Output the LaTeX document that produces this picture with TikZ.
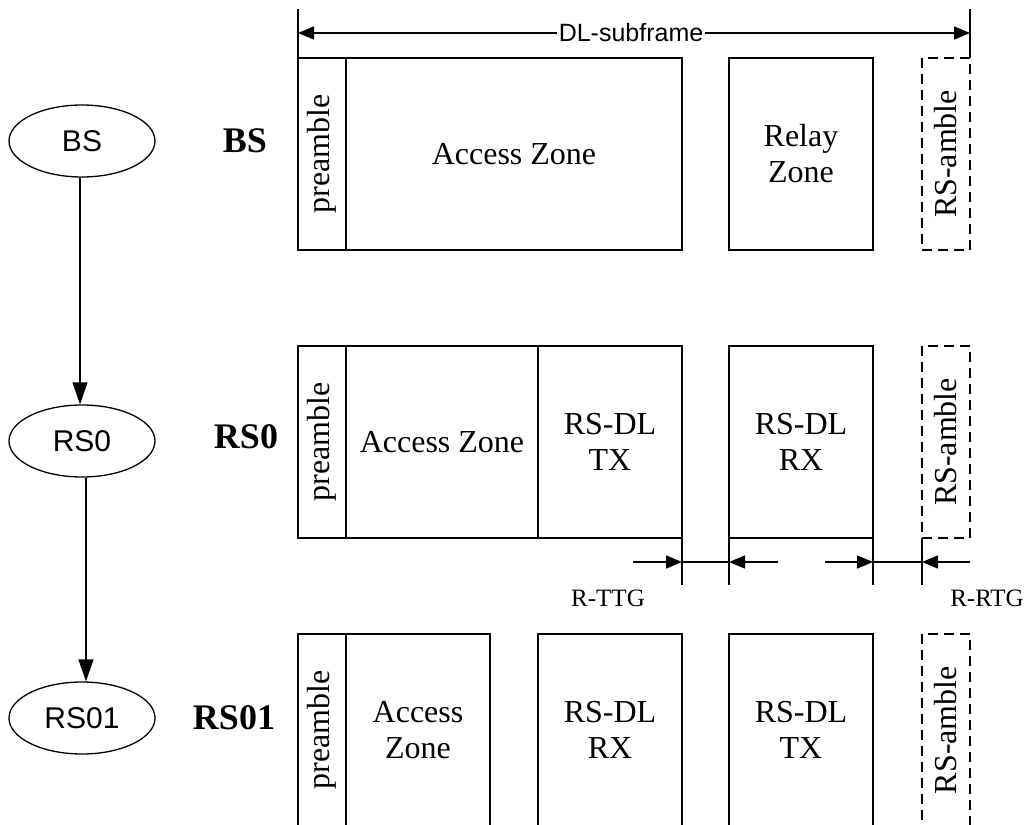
\documentclass[tikz,border=0pt]{standalone}
\usepackage{fontspec}
\setmainfont{Liberation Serif}
\newfontfamily\arialf{Liberation Sans}
\usetikzlibrary{shapes.geometric,arrows.meta}
\begin{document}
\begin{tikzpicture}[x=1pt,y=-1pt,
  box/.style={draw,line width=1.5pt,inner sep=0pt,outer sep=0pt,align=center,
    font=\fontsize{32}{36}\selectfont},
  dbox/.style={box,dash pattern=on 10pt off 6pt},
  gnode/.style={ellipse,draw,line width=1.3pt,minimum width=146pt,minimum height=72pt,
    inner sep=0pt,font=\arialf\fontsize{30}{36}\selectfont},
  lbl/.style={inner sep=0pt,font=\bfseries\fontsize{36}{40}\selectfont},
  gap/.style={inner sep=0pt,font=\fontsize{25}{30}\selectfont},
  dim/.style={line width=1.5pt,-{Triangle[length=16pt,width=13pt]}},
  garrow/.style={line width=1.3pt,-{Triangle[length=22pt,width=15pt]}},
  tick/.style={line width=1.5pt}
]
\useasboundingbox (0,0) rectangle (1027,824);

% ---------- graph on the left ----------
\node[gnode] (BS)   at (82,141) {BS};
\node[gnode] (RS0)  at (82,441) {RS0};
\node[gnode] (RS01) at (82,718) {RS01};
\draw[garrow] ([xshift=-2pt]BS.south) -- ([xshift=-2pt]RS0.north);
\draw[garrow] ([xshift=4pt]RS0.south) -- ([xshift=4pt]RS01.north);

\node[lbl] (lBS)   at (245,141) {BS};
\node[lbl] (lRS0)  at (246,437) {RS0};
\node[lbl] (lRS01) at (234,718) {RS01};

% ---------- BS row ----------
\node[box,minimum width=48pt,minimum height=192pt]  (bpre) at (322,154) {\rotatebox{90}{preamble}};
\node[box,minimum width=336pt,minimum height=192pt] (bacc) at (514,154) {Access Zone};
\node[box,minimum width=144pt,minimum height=192pt] (brel) at (801,154) {Relay\\Zone};
\node[dbox,minimum width=48pt,minimum height=192pt] (bamb) at (946,154) {\rotatebox{90}{RS-amble}};

% ---------- RS0 row ----------
\node[box,minimum width=48pt,minimum height=192pt]  (rpre) at (322,442) {\rotatebox{90}{preamble}};
\node[box,minimum width=192pt,minimum height=192pt] (racc) at (442,442) {Access Zone};
\node[box,minimum width=144pt,minimum height=192pt] (rtx)  at (610,442) {RS-DL\\TX};
\node[box,minimum width=144pt,minimum height=192pt] (rrx)  at (801,442) {RS-DL\\RX};
\node[dbox,minimum width=48pt,minimum height=192pt] (ramb) at (946,442) {\rotatebox{90}{RS-amble}};

% ---------- RS01 row ----------
\node[box,minimum width=48pt,minimum height=192pt]  (spre) at (322,730) {\rotatebox{90}{preamble}};
\node[box,minimum width=144pt,minimum height=192pt] (sacc) at (418,730) {Access\\Zone};
\node[box,minimum width=144pt,minimum height=192pt] (srx)  at (610,730) {RS-DL\\RX};
\node[box,minimum width=144pt,minimum height=192pt] (stx)  at (801,730) {RS-DL\\TX};
\node[dbox,minimum width=48pt,minimum height=192pt] (samb) at (946,730) {\rotatebox{90}{RS-amble}};

% ---------- DL-subframe dimension ----------
\coordinate (tl) at (298,9);
\coordinate (tr) at (970,9);
\draw[tick] (tl) -- (bpre.north west);
\draw[tick] (tr) -- (bamb.north east);
\node[inner sep=2pt,font=\arialf\fontsize{25}{30}\selectfont] (dl) at (631,33) {DL-subframe};
\draw[dim] (dl.west) -- (dl.west -| tl);
\draw[dim] (dl.east) -- (dl.east -| tr);

% ---------- R-TTG / R-RTG ----------
\coordinate (g1) at (682,585);
\coordinate (g2) at (729,585);
\coordinate (g3) at (873,585);
\coordinate (g4) at (922,585);
\draw[tick] (rtx.south east) -- (g1);
\draw[tick] (rrx.south west) -- (g2);
\draw[tick] (rrx.south east) -- (g3);
\draw[tick] (ramb.south west) -- (g4);

\coordinate (a1) at (633,562);
\coordinate (a2) at (778,562);
\coordinate (a3) at (825,562);
\coordinate (a4) at (970,562);
\draw[dim] (a1) -- (a1 -| g1);
\draw[tick] (a1 -| g1) -- (a1 -| g2);
\draw[dim] (a2) -- (a2 -| g2);
\draw[dim] (a3) -- (a3 -| g3);
\draw[tick] (a3 -| g3) -- (a3 -| g4);
\draw[dim] (a4) -- (a4 -| g4);

\node[gap] (ttg) at (608,598) {R-TTG};
\node[gap] (rtg) at (987,598) {R-RTG};
\end{tikzpicture}
\end{document}
